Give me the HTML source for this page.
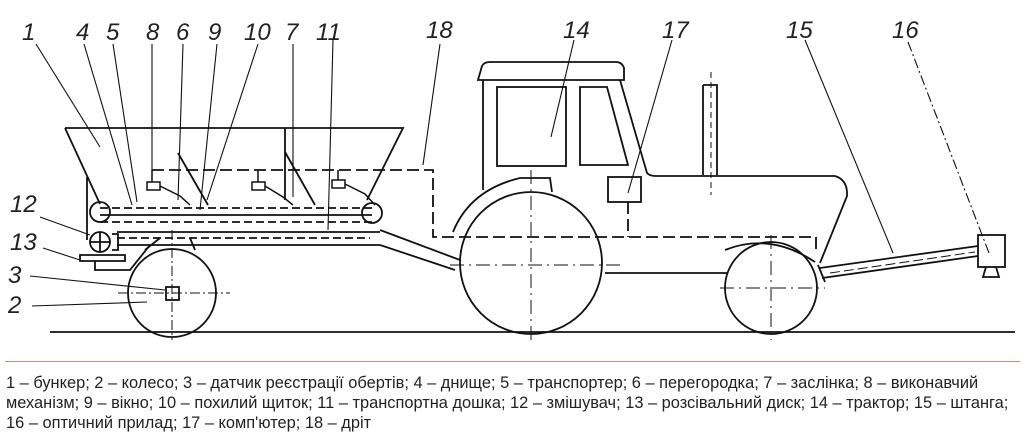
<!DOCTYPE html>
<html><head><meta charset="utf-8"><style>
body{margin:0;background:#fff;width:1022px;height:448px;overflow:hidden;position:relative;font-family:"Liberation Sans",sans-serif}
svg{position:absolute;left:0;top:0}
.cap{position:absolute;left:6px;top:373px;font-size:16.4px;line-height:20px;color:#222;white-space:nowrap}
</style></head><body>
<svg width="1022" height="360" viewBox="0 0 1022 360" fill="none" stroke="#111" stroke-width="1.8">
<g font-family="Liberation Sans,sans-serif" font-style="italic" font-size="24" fill="#222" stroke="none">
<text x="22" y="40">1</text><text x="76" y="40">4</text><text x="106" y="40">5</text><text x="146" y="40">8</text><text x="176" y="40">6</text><text x="208" y="40">9</text><text x="244" y="40">10</text><text x="285" y="40">7</text><text x="316" y="40">11</text><text x="426" y="38">18</text>
<text x="563" y="38">14</text><text x="662" y="38">17</text><text x="786" y="38">15</text><text x="892" y="38">16</text>
<text x="10" y="212">12</text><text x="10" y="250">13</text><text x="8" y="283">3</text><text x="8" y="313">2</text>
</g>
<g stroke-width="1.1">
<path d="M36 44 L100 147 M84 44 L132 205 M113 44 L137 202 M152 44 V177 M183 44 L178 200 M217 44 L200 210 M258 44 L207 200 M293 44 V197 M333 40 L328 230 M440 44 L423 165"/>
<path d="M574 40 L551 137 M672 40 L628 193 M805 40 L893 253" />
<path d="M908 42 L989 253" stroke-dasharray="10 3 2 3"/>
<path d="M40 217 L90 235 M43 248 L80 260 M30 276 L165 290 M32 306 L147 302"/>
</g>
<path d="M50 332 H1015"/>
<path d="M65 128 H403 L367 200 M65 128 L100 204 M87 177 V240 M285 128 V200"/>
<path d="M178 153 L208 205 M285 152 L315 205"/>
<path d="M100 215 H372 M117 232 H380 M117 245 H380 M380 230 L460 260 M380 245 L455 270" />
<path d="M100 208 H372 M100 222 H372 M117 238 H370" stroke-dasharray="8 4"/>
<circle cx="100" cy="212" r="10"/><circle cx="372" cy="213" r="10"/><circle cx="100" cy="242" r="10"/>
<path d="M90 242 H110 M100 232 V252 M112 234 H118 V250 H112"/>
<path d="M80 255 H125 V261 H80 Z M95 261 V270 H130 L150 245"/>
<circle cx="172" cy="293" r="44"/>
<rect x="166" y="287" width="13" height="13"/>
<path d="M118 293 H230 M172 230 V340" stroke-width="1" stroke-dasharray="10 3 2 3"/>
<path d="M145 250 L160 238 M195 250 L190 238"/>
<g stroke-width="1.5"><rect x="147" y="182" width="13" height="8"/><rect x="252" y="182" width="13" height="8"/><rect x="332" y="180" width="13" height="8"/>
<path d="M160 186 L180 196 L190 205 M265 186 L283 197 L293 205 M345 184 L365 194 L375 205 M152 170 V182 M258 170 V182 M338 170 V180"/></g>
<path d="M152 170 H433 V237 H816 V250 M628 202 V237" stroke-dasharray="12 5"/>
<circle cx="531" cy="263" r="71"/>
<circle cx="771" cy="288" r="46"/>
<path d="M450 265 H620 M531 170 V340 M720 288 H825 M771 235 V340" stroke-width="1" stroke-dasharray="14 5 2 5"/>
<path d="M478 80 L482 66 Q484 62 490 62 H616 Q622 62 624 68 V80 Z"/>
<path d="M483 80 V190 M620 80 L647 173 Q650 176 655 176 H835 Q848 180 847 196 L820 263"/>
<rect x="497" y="87" width="69" height="79"/>
<path d="M580 87 H607 L628 165 H580 Z"/>
<path d="M453 232 Q470 190 520 178 H550 L552 192"/>
<path d="M703 85 H717 V175 M703 85 V175"/>
<path d="M711 72 V195" stroke-width="1" stroke-dasharray="6 4"/>
<rect x="608" y="177" width="33" height="25"/>
<path d="M605 273 H728"/>
<path d="M820 268 L978 246 M822 278 L978 256 M818 265 L825 282"/>
<path d="M830 273 L975 252" stroke-dasharray="10 4" stroke-width="1"/>
<path d="M725 250 Q770 232 815 262"/>
<rect x="978" y="235" width="27" height="32"/>
<path d="M986 267 L983 277 H999 L996 267"/>
</svg>
<div style="position:absolute;left:5px;top:361px;width:1015px;height:1px;background:#c98a86"></div>
<div class="cap">1 – бункер; 2 – колесо; 3 – датчик реєстрації обертів; 4 – днище; 5 – транспортер; 6 – перегородка; 7 – заслінка; 8 – виконавчий<br>механізм; 9 – вікно; 10 – похилий щиток; 11 – транспортна дошка; 12 – змішувач; 13 – розсівальний диск; 14 – трактор; 15 – штанга;<br>16 – оптичний прилад; 17 – комп'ютер; 18 – дріт</div>
</body></html>
